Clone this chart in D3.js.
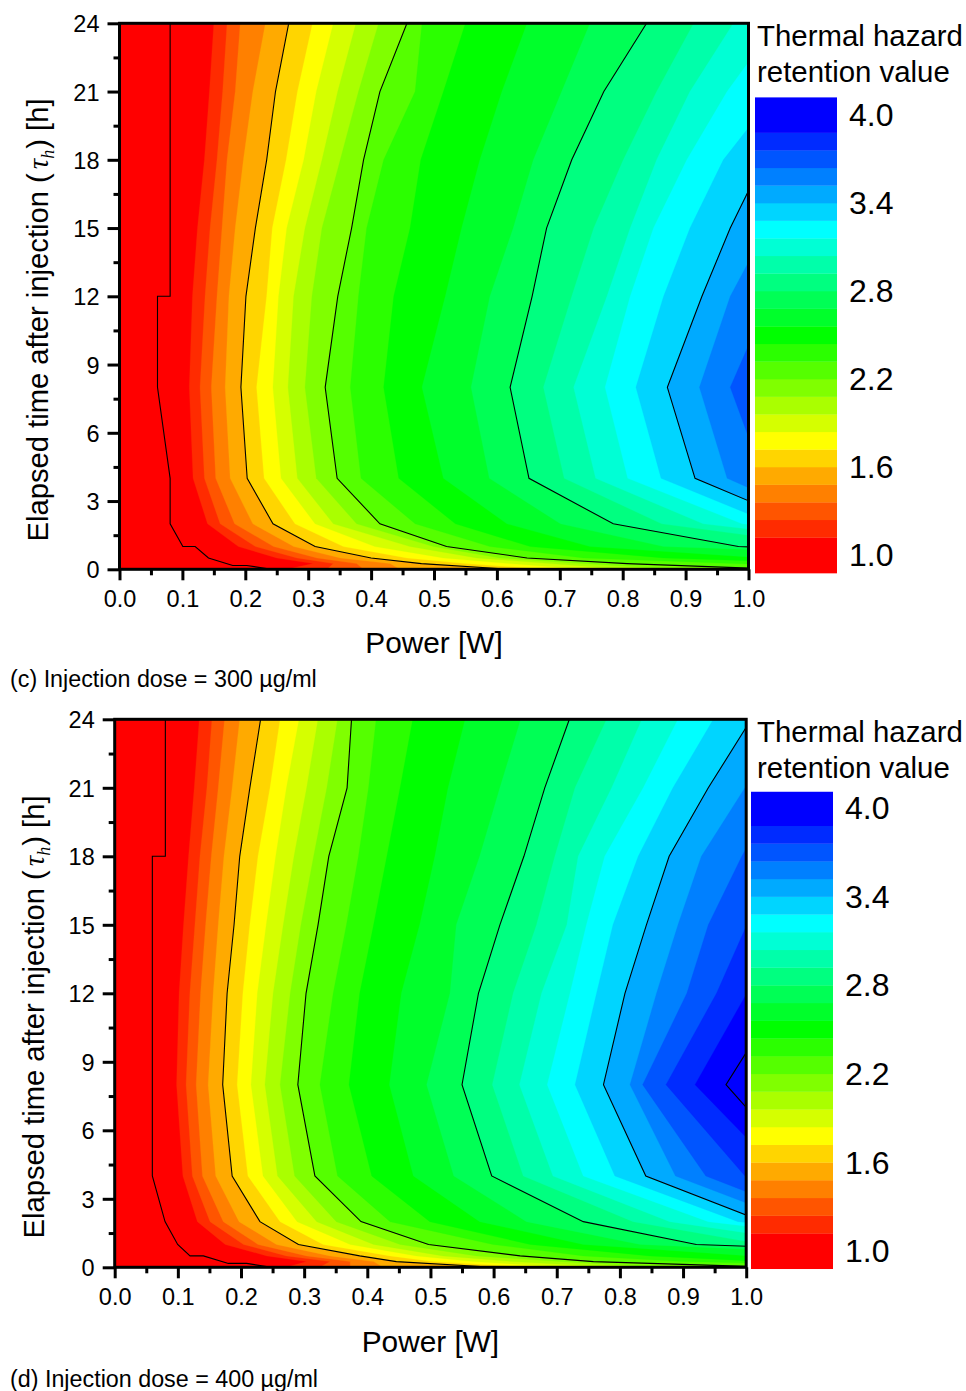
<!DOCTYPE html>
<html><head><meta charset="utf-8">
<script src="https://d3js.org/d3.v7.min.js"></script>
<style>html,body{margin:0;padding:0;background:#fff}svg{display:block}text{font-family:"Liberation Sans",Arial,sans-serif;fill:#000}</style>
</head><body><svg id="c" width="966" height="1391"></svg>
<script>
// ---- shared data ----
const legendTicks = [1.0, 1.6, 2.2, 2.8, 3.4, 4.0];
const levels = d3.range(24).map(i => +(1.12 + 0.12 * i).toFixed(2));
const bandColors = ["#ff0000","#ff2b00","#ff5500","#ff8000","#ffaa00","#ffd500","#ffff00","#d5ff00","#aaff00","#80ff00","#55ff00","#2bff00","#00ff00","#00ff2b","#00ff55","#00ff80","#00ffaa","#00ffd5","#00ffff","#00d5ff","#00aaff","#0080ff","#0055ff","#002bff","#0000ff"];
const powerMajor = [0,.1,.2,.3,.4,.5,.6,.7,.8,.9,1];
const powerMinor = [.05,.15,.25,.35,.45,.55,.65,.75,.85,.95];
const timeMajor = [0,3,6,9,12,15,18,21,24];
const timeMinor = [1.5,4.5,7.5,10.5,13.5,16.5,19.5,22.5];
const times = [24,21,18,15,12,8,4,2,1,.5,.25,0];
const majorLevels = [1.6,2.2,2.8,3.4];

// Panel (c): power [W] where the value crosses each level (rows: times, cols: levels)
const doseC = [
[.150,.171,.192,.232,.269,.307,.340,.376,.412,.457,.481,.550,.648,.748,.838,.913,.976,1.045,1.103,1.183,1.236,1.321],
[.143,.164,.184,.212,.248,.283,.313,.347,.380,.414,.470,.515,.608,.703,.770,.854,.907,.966,1.045,1.103,1.156,1.241],
[.135,.155,.171,.197,.234,.265,.293,.322,.351,.388,.420,.479,.573,.658,.719,.801,.854,.902,.960,1.024,1.077,1.183],
[.124,.144,.163,.184,.216,.243,.266,.295,.322,.369,.393,.462,.544,.626,.679,.754,.812,.849,.907,.971,1.029,1.103],
[.116,.136,.155,.174,.201,.234,.253,.277,.306,.347,.380,.436,.518,.589,.656,.719,.775,.812,.865,.926,.971,1.034],
[.111,.128,.146,.168,.193,.218,.244,.268,.295,.327,.367,.420,.481,.559,.621,.674,.722,.772,.821,.871,.922,.971],
[.117,.135,.153,.176,.203,.230,.257,.283,.313,.346,.384,.444,.515,.588,.651,.707,.757,.808,.861,.915,.966,1.024],
[.140,.160,.183,.212,.244,.279,.311,.340,.377,.414,.470,.534,.616,.701,.785,.862,.928,.990,1.038,1.087,1.130,1.347],
[.189,.216,.245,.277,.311,.356,.406,.462,.499,.520,.589,.653,.748,.865,.984,1.135,1.241,1.347,1.453,1.559,1.665,1.824],
[.250,.282,.314,.351,.400,.457,.515,.568,.605,.648,.738,.865,1.024,1.400,1.665,1.771,1.877,1.983,2.089,2.195,2.301,2.407],
[.308,.340,.377,.430,.480,.550,.620,.685,.738,.807,.976,1.135,1.294,1.559,1.824,2.0,2.1,2.2,2.3,2.4,2.5,2.6],
[.266,.330,.388,.446,.620,.680,.740,.800,.880,1.050,1.3,1.5,1.7,1.9,2.1,2.2,2.3,2.4,2.5,2.6,2.7,2.8]
];
const lineC10Power = [.0805,.0805,.0604,.0604,.0805,.0805,.1007,.1203,.1415,.180,.2024,.234,.27];
const lineC10Time  = [24,12,12,8,4,2,1,1,.5,.17,.17,.03,0];

// Panel (d)
const doseD = [
[.134,.154,.174,.198,.231,.262,.292,.322,.353,.375,.414,.472,.555,.643,.720,.779,.835,.892,.948,1.008,1.085,1.164,1.243,1.349],
[.126,.146,.164,.186,.214,.246,.272,.304,.336,.368,.402,.452,.528,.610,.681,.729,.787,.837,.884,.940,.998,1.053,1.117,1.185],
[.117,.135,.153,.173,.198,.227,.255,.284,.315,.339,.386,.431,.507,.578,.648,.697,.734,.776,.829,.878,.929,.993,1.069,1.143],
[.109,.127,.144,.164,.189,.214,.240,.267,.295,.322,.367,.410,.483,.541,.610,.668,.716,.747,.789,.842,.892,.940,1.001,1.074],
[.102,.119,.136,.156,.178,.203,.226,.251,.278,.303,.346,.388,.454,.531,.576,.631,.676,.721,.763,.808,.858,.906,.953,1.001],
[.098,.113,.129,.148,.171,.194,.216,.238,.262,.290,.325,.371,.435,.494,.550,.598,.641,.685,.729,.774,.816,.836,.873,.919],
[.108,.123,.139,.160,.186,.211,.235,.258,.285,.317,.353,.407,.473,.537,.597,.647,.694,.742,.792,.841,.888,.936,.998,1.059],
[.131,.151,.172,.197,.230,.262,.289,.320,.351,.390,.436,.499,.578,.652,.742,.821,.879,.940,.987,1.027,1.078,1.122,1.238,1.349],
[.175,.204,.227,.256,.291,.330,.373,.410,.452,.497,.599,.658,.742,.832,.921,1.027,1.127,1.243,1.402,1.560,1.718,1.824,1.929,2.035],
[.241,.272,.304,.341,.388,.436,.478,.520,.573,.642,.742,.847,1.006,1.243,1.454,1.665,1.771,1.877,1.982,2.088,2.193,2.299,2.404,2.51],
[.304,.341,.373,.410,.446,.504,.568,.631,.705,.758,.900,1.032,1.243,1.454,1.7,1.9,2.0,2.1,2.2,2.3,2.4,2.5,2.6,2.7],
[.272,.325,.373,.425,.600,.660,.720,.790,.860,1.050,1.3,1.5,1.7,1.9,2.1,2.2,2.3,2.4,2.5,2.6,2.7,2.8,2.9,3.0]
];
const lineD10Power = [.0802,.0802,.0596,.0596,.0797,.0997,.1193,.1404,.180,.209,.2406,.27];
const lineD10Time  = [24,18,18,4,2,1,.5,.5,.17,.17,.03,0];
const lineD40Power = [1.0,.968,1.0];
const lineD40Time  = [9.4,8,7];

const svg = d3.select("#c");

function panel(o){
  const x = d3.scaleLinear().domain([0,1]).range([o.x0,o.x1]);
  const y = d3.scaleLinear().domain([0,24]).range([o.y0,o.y1]);
  const id = "clip"+o.name;
  svg.append("clipPath").attr("id",id).append("rect")
    .attr("x",o.x0).attr("y",o.y1).attr("width",o.x1-o.x0).attr("height",o.y0-o.y1);
  const plot = svg.append("g").attr("clip-path",`url(#${id})`);
  plot.append("rect").attr("x",o.x0).attr("y",o.y1).attr("width",o.x1-o.x0).attr("height",o.y0-o.y1).attr("fill",bandColors[0]);
  const rows = times.map((t,i)=>({t,p:o.table[i]}));
  const nLev = o.table[0].length;
  const area = k => d3.area().x0(d=>x(d.p[k])).x1(x(1)+1).y(d=>y(d.t))(rows);
  d3.range(nLev).forEach(k=>{
    plot.append("path").attr("d",area(k)).attr("fill",bandColors[k+1]).attr("stroke",bandColors[k+1]).attr("stroke-width",.3);
  });
  const line = d3.line().x(d=>x(d[0])).y(d=>y(d[1]));
  const black = pts => plot.append("path").attr("d",line(pts)).attr("fill","none").attr("stroke","#000").attr("stroke-width",1.1);
  majorLevels.forEach(v=>{
    const k = levels.indexOf(v);
    black(rows.map(r=>[r.p[k],r.t]));
  });
  o.extraLines.forEach(l=>black(d3.zip(l[0],l[1])));

  // axes
  const styleAxis = g=>{g.selectAll("path.domain").remove();g.selectAll("line").attr("stroke","#000").attr("stroke-width",3);};
  const xa = svg.append("g").attr("transform",`translate(0,${o.y0})`)
    .call(d3.axisBottom(x).tickValues(powerMajor).tickSize(11).tickPadding(10).tickFormat(d3.format(".1f")));
  xa.call(styleAxis); xa.selectAll("text").style("font-size","23.5px").style("font-family",'"Liberation Sans"');
  svg.append("g").attr("transform",`translate(0,${o.y0})`)
    .call(d3.axisBottom(x).tickValues(powerMinor).tickSize(6).tickFormat("")).call(styleAxis);
  const ya = svg.append("g").attr("transform",`translate(${o.x0},0)`)
    .call(d3.axisLeft(y).tickValues(timeMajor).tickSize(12).tickPadding(8).tickFormat(d3.format("d")));
  ya.call(styleAxis); ya.selectAll("text").style("font-size","23.5px").style("font-family",'"Liberation Sans"').attr("dy","0.36em");
  svg.append("g").attr("transform",`translate(${o.x0},0)`)
    .call(d3.axisLeft(y).tickValues(timeMinor).tickSize(6).tickFormat("")).call(styleAxis);
  svg.append("rect").attr("x",o.x0).attr("y",o.y1).attr("width",o.x1-o.x0).attr("height",o.y0-o.y1)
    .attr("fill","none").attr("stroke","#000").attr("stroke-width",3);

  // titles
  svg.append("text").attr("x",(o.x0+o.x1)/2).attr("y",o.xTitleY).attr("text-anchor","middle").style("font-size","29.8px").text("Power [W]");
  const yt = svg.append("text").attr("transform",`translate(${o.yTitleX},${o.yTitleC}) rotate(-90)`).attr("text-anchor","middle").style("font-size","29.2px");
  yt.append("tspan").text("Elapsed time after injection (");
  yt.append("tspan").attr("dx",4).style("font-family",'"Liberation Serif"').style("font-style","italic").text("\u03C4");
  yt.append("tspan").attr("dy",6).style("font-family",'"Liberation Serif"').style("font-style","italic").style("font-size","18px").text("h");
  yt.append("tspan").attr("dy",-6).attr("dx",1).text(") [h]");
  svg.append("text").attr("x",10).attr("y",o.captionY).style("font-size","23.3px").text(o.caption);

  // legend
  const ly = d3.scaleLinear().domain([1,4]).range([o.leg1,o.leg4]);
  const edges = [o.legMin].concat(levels,[o.legMax]);
  bandColors.forEach((c,i)=>{
    svg.append("rect").attr("x",o.legX).attr("width",82)
      .attr("y",ly(edges[i+1])).attr("height",ly(edges[i])-ly(edges[i+1])+.3).attr("fill",c);
  });
  legendTicks.forEach(v=>{
    svg.append("text").attr("x",o.legX+94).attr("y",ly(v)).attr("dy","0.35em").style("font-size","32px").text(v.toFixed(1));
  });
  ["Thermal hazard","retention value"].forEach((s,i)=>{
    svg.append("text").attr("x",757).attr("y",o.legTitleY+36*i).style("font-size","29.4px").text(s);
  });
}

panel({name:"c",table:doseC,x0:119.5,x1:748.5,y0:569.3,y1:23.3,xTitleY:653,yTitleX:48,yTitleC:320,
  caption:"(c) Injection dose = 300 \u00B5g/ml",captionY:687,legX:755,leg1:555,leg4:115,legMin:.877,legMax:4.12,legTitleY:46,
  extraLines:[[lineC10Power,lineC10Time]]});
panel({name:"d",table:doseD,x0:114.7,x1:746.2,y0:1267.3,y1:719.3,xTitleY:1352,yTitleX:44,yTitleC:1017,
  caption:"(d) Injection dose = 400 \u00B5g/ml",captionY:1387,legX:751,leg1:1251,leg4:808,legMin:.88,legMax:4.11,legTitleY:742,
  extraLines:[[lineD10Power,lineD10Time],[lineD40Power,lineD40Time]]});
</script></body></html>
